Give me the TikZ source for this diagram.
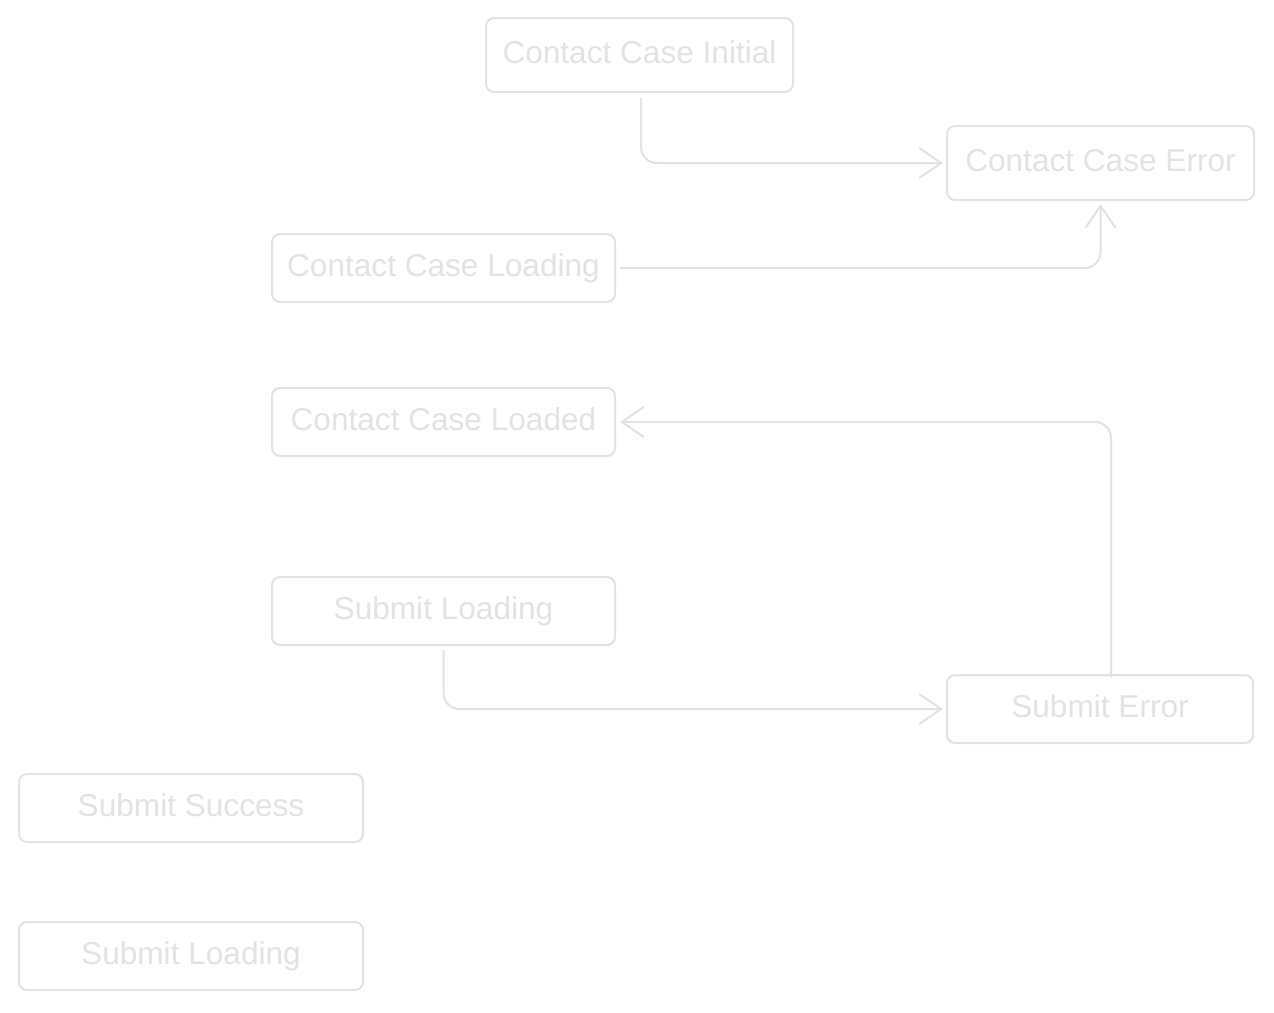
\documentclass[tikz,border=0pt]{standalone}
\usepackage{fontspec}
\setmainfont{Liberation Sans}
\usetikzlibrary{arrows.meta}
\definecolor{sk}{RGB}{226,226,226}
\definecolor{sktext}{RGB}{226,226,226}
\tikzset{
  box/.style={draw=sk, line width=2pt, rounded corners=8pt, text=sktext,
    font=\fontsize{31.6}{36}\selectfont, inner sep=0pt, anchor=center,
    text height=23pt, text depth=6.5pt},
  conn/.style={draw=sk, line width=2pt, rounded corners=16pt,
    -{Straight Barb[length=22pt,width=30pt,line width=2pt]}}
}
\begin{document}
\begin{tikzpicture}[x=1pt,y=-1pt]
\useasboundingbox[fill=white] (0,0) rectangle (1274,1012);
\node[box, minimum width=307pt, minimum height=74pt] (init) at (639.5,55) {Contact Case Initial};
\node[box, minimum width=307pt, minimum height=74pt] (err) at (1100.5,163) {Contact Case Error};
\node[box, minimum width=343pt, minimum height=68pt] (load) at (443.5,268) {Contact Case Loading};
\node[box, minimum width=343pt, minimum height=68pt] (loaded) at (443.5,422) {Contact Case Loaded};
\node[box, minimum width=343pt, minimum height=68pt] (sload) at (443.5,611) {Submit Loading};
\node[box, minimum width=306pt, minimum height=68pt] (serr) at (1100,709) {Submit Error};
\node[box, minimum width=344pt, minimum height=68pt] (ssucc) at (191,808) {Submit Success};
\node[box, minimum width=344pt, minimum height=68pt] (sload2) at (191,956) {Submit Loading};

\draw[conn] ([xshift=1.5pt,yshift=-5pt]init.south) |- ([xshift=-3pt]err.west);
\draw[conn] ([xshift=4pt]load.east) -| ([yshift=-3pt]err.south);
\draw[conn] ([xshift=11pt,yshift=-3pt]serr.north) |- ([xshift=4pt]loaded.east);
\draw[conn] ([yshift=-4pt]sload.south) |- ([xshift=-3pt]serr.west);
\end{tikzpicture}
\end{document}
